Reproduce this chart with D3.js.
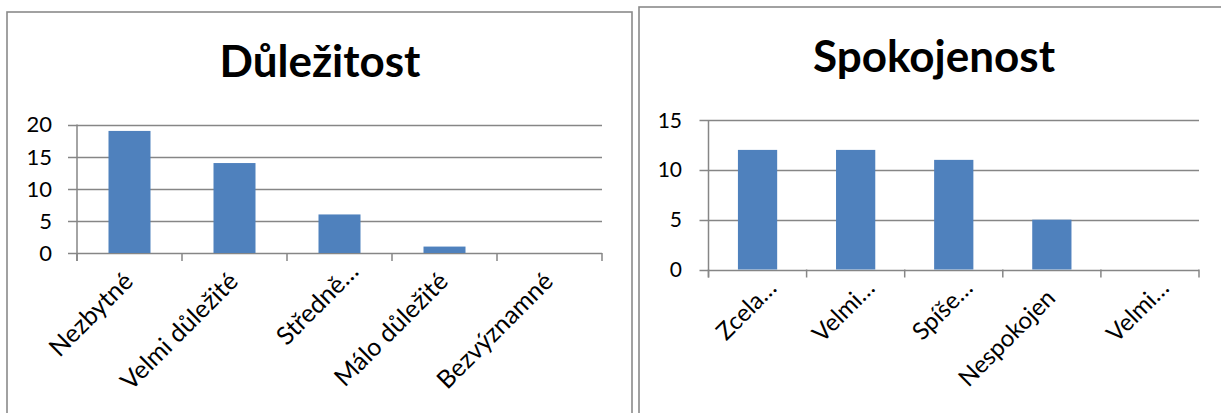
<!DOCTYPE html>
<html>
<head>
<meta charset="utf-8">
<script src="https://cdn.jsdelivr.net/npm/d3@7"></script>
<style>
  html, body { margin: 0; padding: 0; background: #ffffff; }
  svg { display: block; }
  text { font-family: Lato, "Open Sans", "DejaVu Sans", sans-serif; fill: #000; }
</style>
</head>
<body>
<script>
// ---- data ----
const importanceTitle = "Důležitost";
const importanceCategories = ["Nezbytné", "Velmi důležité", "Středně…", "Málo důležité", "Bezvýznamné"];
const importanceValues = [19, 14, 6, 1, 0];
const importanceTicks = [0, 5, 10, 15, 20];

const satisfactionTitle = "Spokojenost";
const satisfactionCategories = ["Zcela…", "Velmi…", "Spíše…", "Nespokojen", "Velmi…"];
const satisfactionValues = [12, 12, 11, 5, 0];
const satisfactionTicks = [0, 5, 10, 15];

// ---- drawing ----
const W = 1221, H = 413;
const svg = d3.select("body").append("svg").attr("width", W).attr("height", H);
svg.append("rect").attr("width", W).attr("height", H).attr("fill", "#fff");

const BAR = "#4F81BD";
const GRID = "#868686";
const FRAME = "#8a8a8a";

function drawChart(o) {
  const g = svg.append("g");
  g.append("rect")
    .attr("x", o.frame[0]).attr("y", o.frame[1])
    .attr("width", o.frame[2]).attr("height", o.frame[3])
    .attr("fill", "none").attr("stroke", FRAME).attr("stroke-width", 1.6);

  g.append("text")
    .attr("x", o.titleX).attr("y", o.titleY)
    .attr("text-anchor", "middle")
    .style("font-weight", "bold").style("font-size", o.titleSize + "px")
    .text(o.title);

  const idx = o.categories.map((d, i) => i);
  const x = d3.scaleBand().domain(idx).range([o.x0, o.x1]).paddingInner(0.6).paddingOuter(0.3);
  const y = d3.scaleLinear().domain([0, d3.max(o.ticks)]).range([o.y0, o.y1]);

  g.append("g").selectAll("line").data(o.ticks).join("line")
    .attr("x1", o.x0 - 9).attr("x2", o.x1)
    .attr("y1", d => Math.round(y(d)) + 0.5).attr("y2", d => Math.round(y(d)) + 0.5)
    .attr("stroke", GRID).attr("stroke-width", 1.5);

  g.append("g").selectAll("text").data(o.ticks).join("text")
    .attr("x", o.labelRight).attr("y", d => y(d))
    .attr("dy", "0.36em")
    .attr("text-anchor", "end")
    .style("font-size", o.tickSize + "px")
    .text(d => d);

  g.append("g").selectAll("rect").data(o.values).join("rect")
    .attr("x", (d, i) => x(i)).attr("width", x.bandwidth())
    .attr("y", d => y(d)).attr("height", d => y(0) - y(d))
    .attr("fill", BAR);

  g.append("line")
    .attr("x1", o.x0).attr("x2", o.x0)
    .attr("y1", y(d3.max(o.ticks))).attr("y2", y(0) + 8)
    .attr("stroke", GRID).attr("stroke-width", 1.5);

  const step = x.step();
  const bounds = d3.range(o.categories.length + 1).map(i => o.x0 + i * step);
  g.append("g").selectAll("line").data(bounds).join("line")
    .attr("x1", d => d).attr("x2", d => d)
    .attr("y1", y(0)).attr("y2", y(0) + 8)
    .attr("stroke", GRID).attr("stroke-width", 1.5);

  g.append("g").selectAll("text").data(o.categories).join("text")
    .attr("transform", (d, i) => `translate(${x(i) + x.bandwidth() / 2 + 5},${y(0) + 30}) rotate(-45)`)
    .attr("text-anchor", "end")
    .attr("dx", d => d.endsWith("…") ? 18 : 0)
    .attr("dy", d => d.endsWith("…") ? 4 : 0)
    .style("font-size", o.catSize + "px")
    .text(d => d);
}

drawChart({
  frame: [7, 12, 625, 420],
  title: importanceTitle, titleX: 320, titleY: 77, titleSize: 44,
  categories: importanceCategories, values: importanceValues, ticks: importanceTicks,
  x0: 77, x1: 602, y0: 253, y1: 124.5,
  labelRight: 52, tickSize: 22, catSize: 25
});

drawChart({
  frame: [639, 7, 600, 420],
  title: satisfactionTitle, titleX: 934, titleY: 72, titleSize: 44,
  categories: satisfactionCategories, values: satisfactionValues, ticks: satisfactionTicks,
  x0: 708.5, x1: 1199, y0: 269.5, y1: 120,
  labelRight: 682, tickSize: 21, catSize: 24
});
</script>
</body>
</html>
